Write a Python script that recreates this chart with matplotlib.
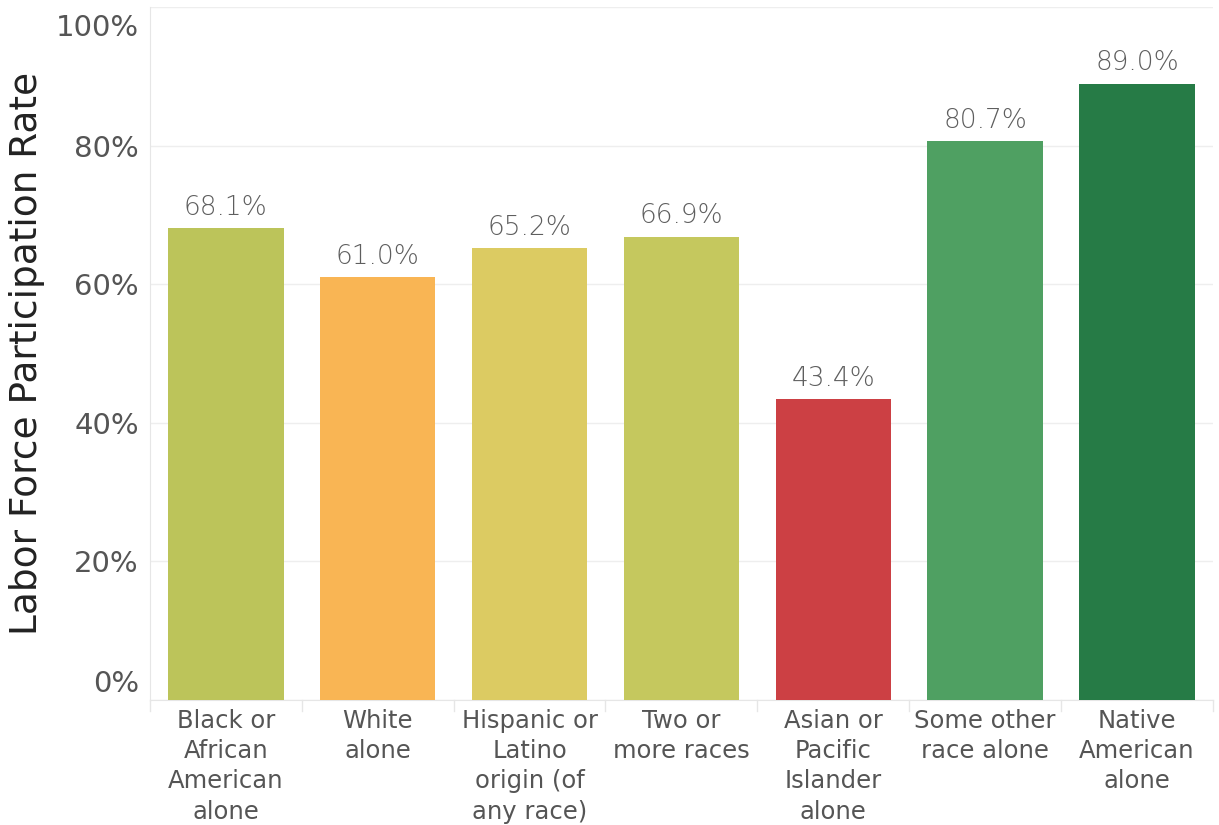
import matplotlib
matplotlib.use("Agg")
import matplotlib.pyplot as plt
from matplotlib.ticker import FuncFormatter, MultipleLocator
import matplotlib.transforms as mtransforms

categories = [
    "Black or\nAfrican\nAmerican\nalone",
    "White\nalone",
    "Hispanic or\nLatino\norigin (of\nany race)",
    "Two or\nmore races",
    "Asian or\nPacific\nIslander\nalone",
    "Some other\nrace alone",
    "Native\nAmerican\nalone",
]
rates = [68.1, 61.0, 65.2, 66.9, 43.4, 80.7, 89.0]
colors = ["#BCC45A", "#F9B554", "#DCCB62", "#C5C85E", "#CC4044", "#4FA062", "#267B46"]

plt.rcParams["font.family"] = ["DejaVu Sans"]

fig = plt.figure(figsize=(12.19, 8.25), dpi=100)
ax = fig.add_axes([0.123, 0.152, 0.872, 0.839])

x = range(len(categories))
ax.bar(x, rates, width=0.76, color=colors, zorder=3)

for xi, v in zip(x, rates):
    ax.annotate(f"{v:.1f}%", (xi, v), xytext=(0, 6), textcoords="offset points",
                ha="center", va="bottom", fontsize=19, color="#5E5E5E",
                fontweight="light", zorder=4)

ax.set_xlim(-0.5, len(categories) - 0.5)
ax.set_ylim(0, 100)
ax.yaxis.set_major_locator(MultipleLocator(20))
ax.yaxis.set_major_formatter(FuncFormatter(lambda v, p: f"{v:.0f}%"))
ax.grid(axis="y", color="#EEEEEE", linewidth=1, zorder=0)
ax.tick_params(axis="y", length=0, labelsize=21, labelcolor="#555555", pad=8)

ax.set_xticks(list(x))
ax.set_xticklabels(categories, fontsize=17.5, color="#555555", linespacing=1.32)
ax.tick_params(axis="x", length=0, pad=7)
# short separators below the axis between categories
for b in [i - 0.5 for i in range(len(categories) + 1)]:
    ax.plot([b, b], [0, -1.6], color="#E6E6E6", lw=1, clip_on=False, zorder=1)

for side in ["top", "right"]:
    ax.spines[side].set_visible(False)
ax.spines["left"].set_color("#E6E6E6")
ax.spines["bottom"].set_color("#E6E6E6")

ax.set_ylabel("Labor Force Participation Rate", fontsize=27, color="#222222", labelpad=8)

fig.canvas.draw()
for lab in ax.get_yticklabels():
    if lab.get_text() == "100%":
        lab.set_va("top")
        lab.set_transform(lab.get_transform() + mtransforms.ScaledTranslation(0, -5 / 72, fig.dpi_scale_trans))
    elif lab.get_text() == "0%":
        lab.set_va("bottom")
        lab.set_transform(lab.get_transform() + mtransforms.ScaledTranslation(0, 1 / 72, fig.dpi_scale_trans))

fig.savefig("out.png", dpi=100, facecolor="white")
